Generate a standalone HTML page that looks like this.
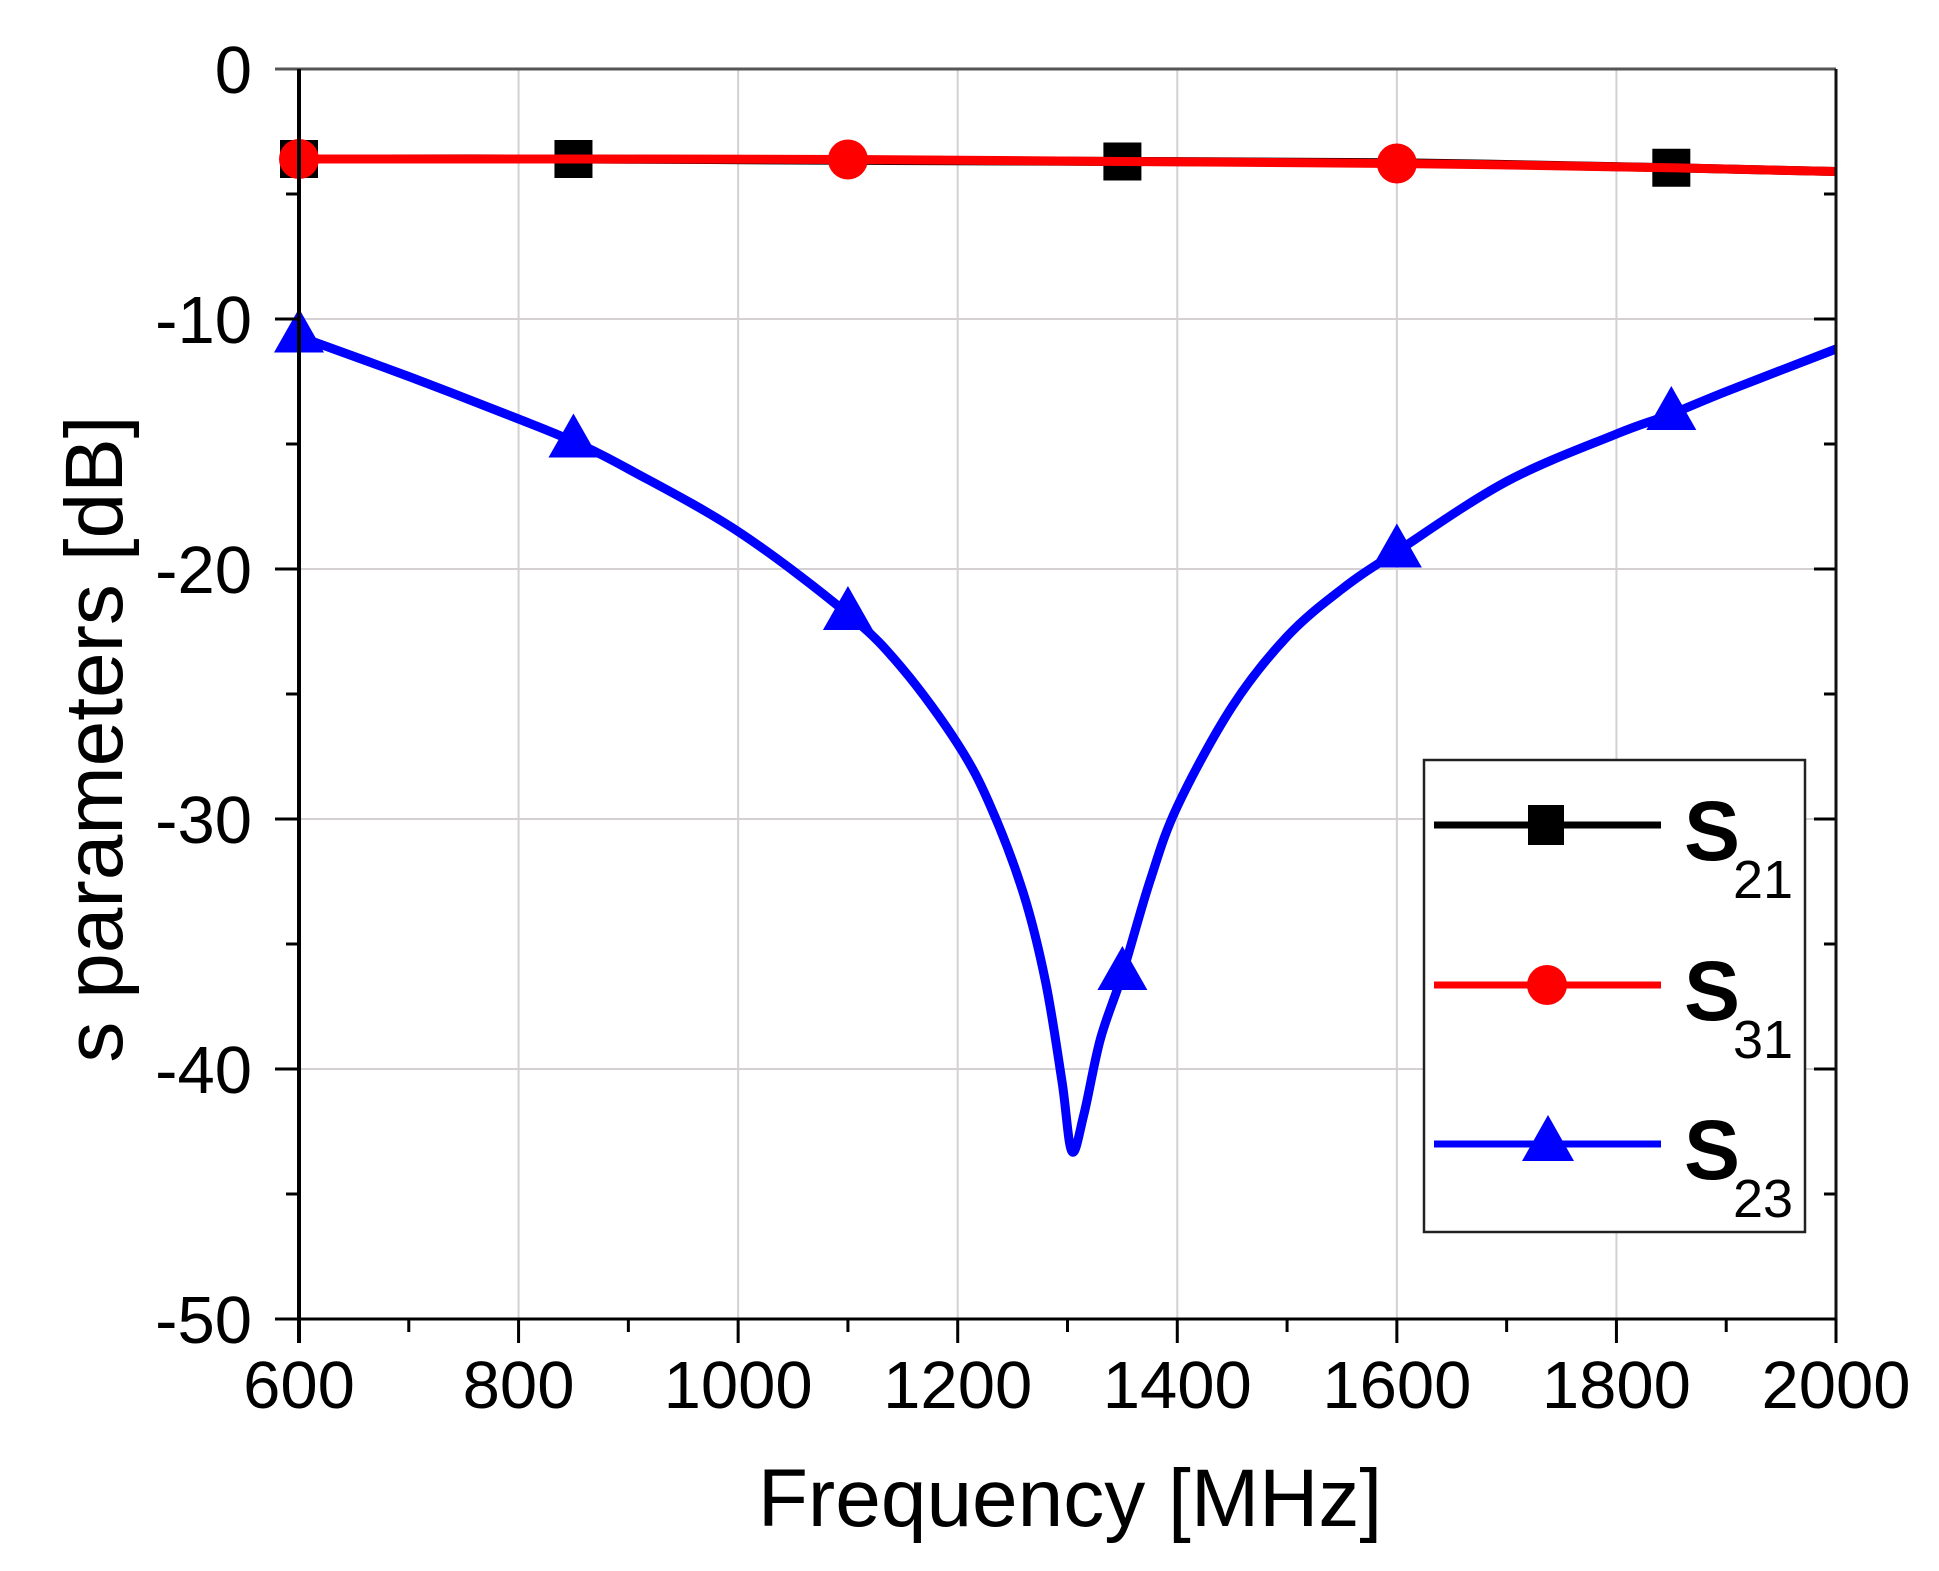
<!DOCTYPE html>
<html><head><meta charset="utf-8"><style>
html,body{margin:0;padding:0;background:#fff;}
svg{display:block;font-family:"Liberation Sans",Arial,sans-serif;}
</style></head><body>
<svg id="chart" width="1939" height="1571" viewBox="0 0 1939 1571" xmlns="http://www.w3.org/2000/svg">
<rect x="0" y="0" width="1939" height="1571" fill="#fff"/>
<g id="grid"></g>
<g id="series"></g>
<g id="axes"></g>
<text x="1070" y="1526" font-size="82" text-anchor="middle">Frequency [MHz]</text>
<text transform="translate(122,739) rotate(-90)" font-size="82" text-anchor="middle">s parameters [dB]</text>
<g id="legend">
<rect x="1424" y="760" width="381" height="472" fill="#fff" stroke="#222" stroke-width="2.5"/>
<g>
<line x1="1434" y1="825" x2="1661" y2="825" stroke="#000" stroke-width="7"/>
<rect x="1528" y="805" width="36" height="40" fill="#000"/>
<text x="1684" y="860" font-size="84" font-weight="bold">S</text>
<text x="1733" y="898" font-size="54">21</text>
</g>
<g>
<line x1="1434" y1="985" x2="1661" y2="985" stroke="#f00" stroke-width="7"/>
<circle cx="1547" cy="985" r="20" fill="#f00"/>
<text x="1684" y="1020" font-size="84" font-weight="bold">S</text>
<text x="1733" y="1058" font-size="54">31</text>
</g>
<g>
<line x1="1434" y1="1144" x2="1661" y2="1144" stroke="#00f" stroke-width="7"/>
<polygon points="1548,1115 1522,1161 1574,1161" fill="#00f"/>
<text x="1684" y="1179" font-size="84" font-weight="bold">S</text>
<text x="1733" y="1217" font-size="54">23</text>
</g>
</g>
</svg>
<script>
const xTicks = [600, 800, 1000, 1200, 1400, 1600, 1800, 2000];
const yTicks = [0, -10, -20, -30, -40, -50];
const s21Freq = [600, 850, 1100, 1350, 1600, 1850, 2000];
const s21Vals = [-3.6, -3.6, -3.65, -3.7, -3.75, -3.95, -4.1];
const s21MarkFreq = [600, 850, 1350, 1850];
const s21MarkVals = [-3.6, -3.6, -3.7, -3.95];
const s31Freq = [600, 850, 1100, 1350, 1600, 1850, 2000];
const s31Vals = [-3.6, -3.6, -3.62, -3.7, -3.78, -3.95, -4.1];
const s31MarkFreq = [600, 1100, 1600];
const s31MarkVals = [-3.6, -3.62, -3.78];
const s23Freq = [600, 700, 800, 850, 900, 1000, 1100, 1150, 1200, 1230, 1260, 1280, 1295, 1304, 1315, 1330, 1350, 1375, 1400, 1450, 1500, 1550, 1600, 1700, 1800, 1850, 1900, 2000];
const s23Vals = [-10.7, -12.3, -14.0, -14.9, -16.0, -18.5, -21.8, -24.0, -27.0, -29.5, -33.0, -36.5, -40.5, -43.3, -41.8, -38.8, -36.2, -32.5, -29.5, -25.5, -22.7, -20.8, -19.3, -16.5, -14.6, -13.8, -12.9, -11.2];
const s23MarkFreq = [600, 850, 1100, 1350, 1600, 1850];
const s23MarkVals = [-10.7, -14.9, -21.8, -36.2, -19.3, -13.8];

const X0 = 299, X1 = 1836, Y0 = 69, Y1 = 1319;
const xs = f => X0 + (f - 600) / 1400 * (X1 - X0);
const ys = v => Y0 + (0 - v) / 50 * (Y1 - Y0);
const NS = 'http://www.w3.org/2000/svg';
function mk(tag, attrs, parent) {
  const el = document.createElementNS(NS, tag);
  for (const k in attrs) el.setAttribute(k, attrs[k]);
  parent.appendChild(el);
  return el;
}
const gridG = document.getElementById('grid');
const axesG = document.getElementById('axes');
const seriesG = document.getElementById('series');

xTicks.forEach((t, i) => {
  if (i > 0 && i < xTicks.length - 1) {
    const g = mk('line', {x1: xs(t), y1: Y0, x2: xs(t), y2: Y1, stroke: '#d4d0d4', 'stroke-width': 2}, gridG);
    
    
  }
  const tk = mk('line', {x1: xs(t), y1: Y1, x2: xs(t), y2: Y1 + 24, stroke: '#000', 'stroke-width': 3}, axesG);
  
  
  const lb = mk('text', {x: xs(t), y: 1408, 'font-size': 67, 'text-anchor': 'middle'}, axesG);
  lb.textContent = t;
  
  
  if (i < xTicks.length - 1) {
    const m = (t + xTicks[i + 1]) / 2;
    const mt = mk('line', {x1: xs(m), y1: Y1, x2: xs(m), y2: Y1 + 13, stroke: '#000', 'stroke-width': 3}, axesG);
    
    
  }
});
yTicks.forEach((t, i) => {
  if (i > 0 && i < yTicks.length - 1) {
    const g = mk('line', {x1: X0, y1: ys(t), x2: X1, y2: ys(t), stroke: '#d4d0d4', 'stroke-width': 2}, gridG);
    
    
  }
  const tk = mk('line', {x1: X0 - 24, y1: ys(t), x2: X0, y2: ys(t), stroke: '#000', 'stroke-width': 3}, axesG);
  
  
  const tr = mk('line', {x1: X1 - 22, y1: ys(t), x2: X1, y2: ys(t), stroke: '#000', 'stroke-width': 3}, axesG);
  
  
  const lb = mk('text', {x: 252, y: ys(t) + 24, 'font-size': 67, 'text-anchor': 'end'}, axesG);
  lb.textContent = t;
  
  
  if (i < yTicks.length - 1) {
    const m = (t + yTicks[i + 1]) / 2;
    const mt = mk('line', {x1: X0 - 13, y1: ys(m), x2: X0, y2: ys(m), stroke: '#000', 'stroke-width': 3}, axesG);
    
    
    const mr = mk('line', {x1: X1 - 12, y1: ys(m), x2: X1, y2: ys(m), stroke: '#000', 'stroke-width': 3}, axesG);
    
    
  }
});
const topAxis = mk('line', {x1: X0 - 24, y1: Y0, x2: X1, y2: Y0, stroke: '#555', 'stroke-width': 3}, axesG);


const rightAxis = mk('line', {x1: X1, y1: Y0, x2: X1, y2: Y1, stroke: '#111', 'stroke-width': 3}, axesG);


const bottomAxis = mk('line', {x1: X0 - 24, y1: Y1, x2: X1, y2: Y1, stroke: '#000', 'stroke-width': 3}, axesG);


const leftAxis = mk('line', {x1: X0, y1: Y0, x2: X0, y2: Y1 + 24, stroke: '#000', 'stroke-width': 4}, axesG);



function drawPath(fr, vals, color, name) {
  const P = fr.map((f, i) => [xs(f), ys(vals[i])]);
  let d = 'M' + P[0][0].toFixed(1) + ',' + P[0][1].toFixed(1);
  for (let i = 0; i < P.length - 1; i++) {
    const p0 = P[Math.max(i - 1, 0)], p1 = P[i], p2 = P[i + 1], p3 = P[Math.min(i + 2, P.length - 1)];
    const c1 = [p1[0] + (p2[0] - p0[0]) / 6, p1[1] + (p2[1] - p0[1]) / 6];
    const c2 = [p2[0] - (p3[0] - p1[0]) / 6, p2[1] - (p3[1] - p1[1]) / 6];
    d += ' C' + c1[0].toFixed(1) + ',' + c1[1].toFixed(1) + ' ' + c2[0].toFixed(1) + ',' + c2[1].toFixed(1) + ' ' + p2[0].toFixed(1) + ',' + p2[1].toFixed(1);
  }
  const p = mk('path', {d: d, fill: 'none', stroke: color, 'stroke-width': 9, 'stroke-linejoin': 'round'}, seriesG);
  
  
}
drawPath(s21Freq, s21Vals, '#000', 's21-line');
s21MarkFreq.forEach((f, i) => {
  const r = mk('rect', {x: xs(f) - 19, y: ys(s21MarkVals[i]) - 19, width: 38, height: 38, fill: '#000'}, seriesG);
  
  
});
drawPath(s31Freq, s31Vals, '#f00', 's31-line');
s31MarkFreq.forEach((f, i) => {
  const c = mk('circle', {cx: xs(f), cy: ys(s31MarkVals[i]), r: 20, fill: '#f00'}, seriesG);
  
  
});
drawPath(s23Freq, s23Vals, '#00f', 's23-line');
s23MarkFreq.forEach((f, i) => {
  const x = xs(f), y = ys(s23MarkVals[i]);
  const t = mk('polygon', {points: `${x},${y - 28} ${x - 25},${y + 16} ${x + 25},${y + 16}`, fill: '#00f'}, seriesG);
  
  
});
</script>
</body></html>
